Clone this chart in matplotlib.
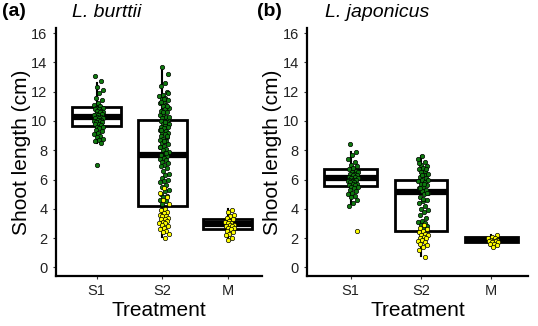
import numpy as np
import matplotlib
matplotlib.use("Agg")
import matplotlib.pyplot as plt

plt.rcParams['font.family'] = ['Liberation Sans', 'DejaVu Sans']

categories = ["S1", "S2", "M"]
yticks = [0, 2, 4, 6, 8, 10, 12, 14, 16]

# box stats: (whislo, q1, med, q3, whishi)
box_a = [(8.5, 9.66, 10.27, 10.96, 12.6),
         (2.05, 4.2, 7.7, 10.05, 13.7),
         (1.9, 2.6, 2.95, 3.3, 4.0)]
box_b = [(4.3, 5.54, 6.08, 6.7, 7.9),
         (0.75, 2.5, 5.13, 6.0, 7.6),
         (1.45, 1.7, 1.9, 2.1, 2.2)]

# panel (a) L. burttii points
a_s1_green = [13.1, 12.7, 12.3, 12.1, 11.9, 11.6, 11.4, 11.2, 11.1, 11.0, 10.9, 10.9,
              10.8, 10.8, 10.7, 10.7, 10.6, 10.6, 10.5, 10.5, 10.4, 10.4, 10.3, 10.3,
              10.2, 10.2, 10.2, 10.1, 10.1, 10.0, 10.0, 9.9, 9.9, 9.8, 9.8, 9.7, 9.6,
              9.6, 9.5, 9.4, 9.3, 9.2, 9.1, 9.0, 8.9, 8.8, 8.7, 8.6, 8.5, 7.0]
a_s2_green = [13.7, 13.2, 12.6, 12.4, 12.0, 11.8, 11.7, 11.6, 11.5, 11.4, 11.3, 11.2,
              11.1, 11.0, 10.9, 10.8, 10.7, 10.6, 10.5, 10.4, 10.3, 10.2, 10.1, 10.0,
              10.0, 9.9, 9.8, 9.8, 9.7, 9.6, 9.6, 9.5, 9.4, 9.3, 9.2, 9.2, 9.1, 9.0,
              8.9, 8.8, 8.7, 8.6, 8.5, 8.4, 8.3, 8.2, 8.1, 8.0, 7.9, 7.8, 7.7, 7.6,
              7.5, 7.4, 7.3, 7.2, 7.1, 7.0, 6.9, 6.8, 6.6, 6.4, 6.3, 6.1, 6.0, 5.9,
              5.8, 5.6, 5.5, 5.3, 5.2, 5.0, 4.9, 4.8, 4.6, 4.5, 4.3,
              11.9, 11.5, 11.3, 11.0, 10.6, 10.3, 9.9, 9.4, 9.0, 8.6, 8.2, 7.8]
a_s2_yellow = [5.4, 5.1, 4.8, 4.6, 4.3, 4.0, 3.9, 3.8, 3.7, 3.6, 3.5, 3.5, 3.4, 3.3,
               3.3, 3.2, 3.1, 3.0, 3.0, 2.9, 2.8, 2.7, 2.6, 2.5, 2.4, 2.3, 2.0]
a_m_yellow = [3.9, 3.8, 3.6, 3.5, 3.4, 3.3, 3.2, 3.1, 3.0, 3.0, 2.9, 2.9, 2.8, 2.8,
              2.7, 2.7, 2.6, 2.5, 2.4, 2.3, 2.2, 2.0, 1.9]

# panel (b) L. japonicus points
b_s1_green = [8.4, 7.9, 7.7, 7.4, 7.2, 7.0, 6.9, 6.8, 6.7, 6.6, 6.5, 6.5, 6.4, 6.4,
              6.3, 6.3, 6.2, 6.2, 6.1, 6.1, 6.0, 6.0, 6.0, 5.9, 5.9, 5.8, 5.8, 5.7,
              5.7, 5.6, 5.6, 5.5, 5.5, 5.4, 5.3, 5.2, 5.1, 5.0, 4.9, 4.8, 4.6, 4.4, 4.2]
b_s1_yellow = [2.5]
b_s2_green = [7.6, 7.4, 7.2, 7.0, 6.9, 6.8, 6.7, 6.6, 6.5, 6.4, 6.3, 6.2, 6.1, 6.0,
              5.9, 5.8, 5.7, 5.6, 5.5, 5.4, 5.3, 5.2, 5.1, 5.0, 4.8, 4.6, 4.5, 4.4,
              4.2, 4.0, 3.9, 3.8, 3.6, 3.4, 3.2, 3.1, 3.0, 2.9, 2.8, 2.7,
              7.1, 6.7, 6.3, 6.0, 5.7, 5.4, 5.1, 4.7]
b_s2_yellow = [2.9, 2.7, 2.6, 2.5, 2.4, 2.3, 2.2, 2.2, 2.1, 2.0, 2.0, 1.9, 1.8, 1.7,
               1.6, 1.5, 1.4, 1.2, 0.7]
b_m_yellow = [2.2, 2.1, 2.0, 2.0, 1.9, 1.9, 1.8, 1.8, 1.8, 1.7, 1.7, 1.6, 1.6, 1.5, 1.4]

GREEN = "#0f7a0f"
YELLOW = "#ffff00"


def jitter(n, seed):
    # deterministic spread of x positions
    return ((np.arange(n) * 0.618 + seed) % 1 - 0.5) * 0.15


def panel(ax, boxes, groups, tag, title):
    stats = [dict(whislo=b[0], q1=b[1], med=b[2], q3=b[3], whishi=b[4], fliers=[])
             for b in boxes]
    ax.bxp(stats, positions=[1, 2, 3], widths=0.75, showfliers=False,
           patch_artist=True, showcaps=False,
           boxprops=dict(facecolor="white", edgecolor="black", linewidth=2.0),
           medianprops=dict(color="black", linewidth=4.5, solid_capstyle="butt"),
           whiskerprops=dict(color="black", linewidth=1.5))
    for pos, vals, col, seed in groups:
        x = pos + 0.03 + jitter(len(vals), seed)
        ax.scatter(x, vals, s=10, c=col, edgecolors="black", linewidths=0.5, zorder=5)
    ax.set_ylim(-0.6, 16.35)
    ax.set_xlim(0.38, 3.52)
    ax.set_xticks([1, 2, 3])
    ax.set_xticklabels(categories)
    ax.set_yticks(yticks)
    ax.spines["top"].set_visible(False)
    ax.spines["right"].set_visible(False)
    ax.spines["left"].set_linewidth(1.6)
    ax.spines["bottom"].set_linewidth(1.6)
    ax.tick_params(labelsize=10.5, length=2.5, width=0.8, colors="#333333",
                   labelcolor="#222222")
    ax.set_ylabel("Shoot length (cm)", fontsize=15, labelpad=0)
    ax.set_xlabel("Treatment", fontsize=15, labelpad=2)
    ax.text(0.08, 1.03, title, transform=ax.transAxes, fontsize=14,
            style="italic", va="bottom")
    return tag


fig = plt.figure(figsize=(5.38, 3.26), dpi=100)
ax1 = fig.add_axes([0.104, 0.153, 0.383, 0.761])
ax2 = fig.add_axes([0.571, 0.153, 0.41, 0.761])

panel(ax1, box_a,
      [(1, a_s1_green, GREEN, 0.1), (2, a_s2_green, GREEN, 0.3),
       (2, a_s2_yellow, YELLOW, 0.5), (3, a_m_yellow, YELLOW, 0.7)],
      "(a)", "L. burttii")
panel(ax2, box_b,
      [(1, b_s1_green, GREEN, 0.2), (1, b_s1_yellow, YELLOW, 0.9),
       (2, b_s2_green, GREEN, 0.4), (2, b_s2_yellow, YELLOW, 0.6),
       (3, b_m_yellow, YELLOW, 0.8)],
      "(b)", "L. japonicus")

fig.text(0.004, 0.94, "(a)", fontsize=14, fontweight="bold", va="bottom")
fig.text(0.478, 0.94, "(b)", fontsize=14, fontweight="bold", va="bottom")

fig.savefig("out.png", dpi=100)
